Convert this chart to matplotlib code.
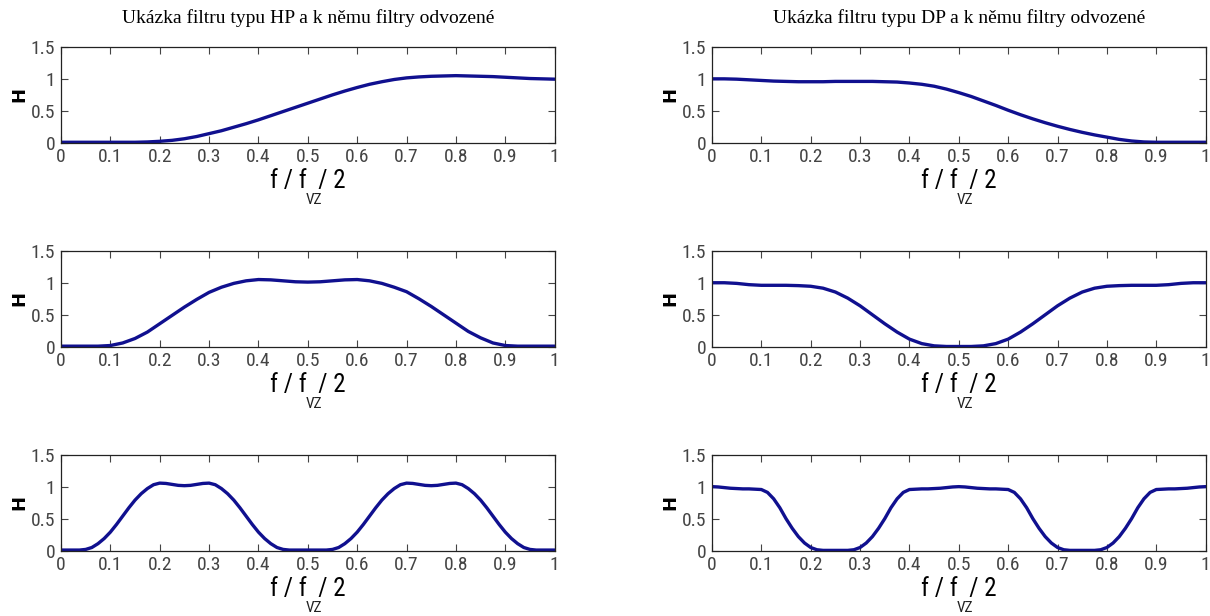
import matplotlib
matplotlib.use("Agg")
import matplotlib.pyplot as plt
from matplotlib import font_manager
import numpy as np

# úzké písmo, pokud je k dispozici
nazvy = {f.name for f in font_manager.fontManager.ttflist}
uzke = [n for n in ['Liberation Sans Narrow', 'Roboto Condensed', 'Open Sans Condensed'] if n in nazvy]
if uzke:
    plt.rcParams['font.family'] = [uzke[0], 'DejaVu Sans']
else:
    plt.rcParams['font.family'] = ['DejaVu Sans']
    plt.rcParams['font.stretch'] = 'condensed'

# odečtené hodnoty z obrázku (krok 0.025)
f_40 = np.linspace(0, 1, 41)
h_hp = [0.01, 0.01, 0.01, 0.01, 0.01, 0.01, 0.01, 0.015, 0.025, 0.04, 0.065, 0.10, 0.145, 0.19, 0.245, 0.30, 0.36,
        0.425, 0.49, 0.555, 0.62, 0.685, 0.75, 0.81, 0.865, 0.915, 0.955, 0.99, 1.015, 1.03, 1.04, 1.045, 1.05,
        1.045, 1.04, 1.035, 1.025, 1.015, 1.005, 1.0, 0.995]
h_dp = [1.0, 1.0, 0.995, 0.985, 0.975, 0.965, 0.96, 0.955, 0.955, 0.955, 0.96, 0.96, 0.96, 0.96, 0.955, 0.95, 0.935,
        0.915, 0.885, 0.84, 0.785, 0.725, 0.655, 0.585, 0.51, 0.44, 0.375, 0.315, 0.26, 0.21, 0.165, 0.125, 0.09,
        0.055, 0.03, 0.015, 0.01, 0.01, 0.01, 0.01, 0.01]
h_pp = [0.01, 0.01, 0.01, 0.01, 0.02, 0.06, 0.13, 0.23, 0.36, 0.49, 0.62, 0.74, 0.85, 0.93, 0.99, 1.03, 1.05,
        1.045, 1.03, 1.015, 1.01, 1.015, 1.03, 1.045, 1.05, 1.03, 0.99, 0.93, 0.86, 0.75, 0.63, 0.50, 0.37,
        0.24, 0.14, 0.06, 0.02, 0.01, 0.01, 0.01, 0.01]
h_pz = [1.0, 1.0, 0.99, 0.97, 0.96, 0.96, 0.96, 0.955, 0.945, 0.915, 0.855, 0.76, 0.64, 0.5, 0.36, 0.23, 0.12,
        0.05, 0.015, 0.005, 0.005, 0.005, 0.015, 0.05, 0.12, 0.23, 0.36, 0.5, 0.64, 0.76, 0.855, 0.915, 0.945,
        0.955, 0.96, 0.96, 0.96, 0.97, 0.99, 1.0, 1.0]

# spodní řada (krok 0.0125)
f_80 = np.linspace(0, 1, 81)
h_hr1 = [0.01, 0.01, 0.01, 0.01, 0.02, 0.05, 0.11, 0.19, 0.29, 0.41, 0.54, 0.67, 0.79, 0.89, 0.97, 1.03, 1.055,
         1.05, 1.035, 1.02, 1.015, 1.02, 1.035, 1.05, 1.055, 1.03, 0.97, 0.89, 0.79, 0.67, 0.54, 0.41, 0.29,
         0.19, 0.11, 0.05, 0.02, 0.01, 0.01, 0.01, 0.01,
         0.01, 0.01, 0.01, 0.02, 0.05, 0.11, 0.19, 0.29, 0.41, 0.54, 0.67, 0.79, 0.89, 0.97, 1.03, 1.055,
         1.05, 1.035, 1.02, 1.015, 1.02, 1.035, 1.05, 1.055, 1.03, 0.97, 0.89, 0.79, 0.67, 0.54, 0.41, 0.29,
         0.19, 0.11, 0.05, 0.02, 0.01, 0.01, 0.01, 0.01]
h_hr2 = [1.0, 0.995, 0.985, 0.975, 0.97, 0.965, 0.965, 0.96, 0.955, 0.91, 0.81, 0.67, 0.5, 0.35, 0.22, 0.12, 0.05,
         0.015, 0.005, 0.005, 0.005, 0.005, 0.005, 0.015, 0.05, 0.12, 0.22, 0.35, 0.5, 0.67, 0.81, 0.91, 0.955,
         0.96, 0.965, 0.965, 0.97, 0.975, 0.985, 0.995, 1.0,
         0.995, 0.985, 0.975, 0.97, 0.965, 0.965, 0.96, 0.955, 0.91, 0.81, 0.67, 0.5, 0.35, 0.22, 0.12, 0.05,
         0.015, 0.005, 0.005, 0.005, 0.005, 0.005, 0.015, 0.05, 0.12, 0.22, 0.35, 0.5, 0.67, 0.81, 0.91, 0.955,
         0.96, 0.965, 0.965, 0.97, 0.975, 0.985, 0.995, 1.0]

tituly = ['Ukázka filtru typu HP a k němu filtry odvozené', 'Ukázka filtru typu DP a k němu filtry odvozené']
xticky = [0, 0.1, 0.2, 0.3, 0.4, 0.5, 0.6, 0.7, 0.8, 0.9, 1]
xtick_popisky = ['0', '0.1', '0.2', '0.3', '0.4', '0.5', '0.6', '0.7', '0.8', '0.9', '1']
yticky = [0, 0.5, 1, 1.5]
ytick_popisky = ['0', '0.5', '1', '1.5']

data = [[(f_40, h_hp), (f_40, h_dp)],
        [(f_40, h_pp), (f_40, h_pz)],
        [(f_80, h_hr1), (f_80, h_hr2)]]

fig = plt.figure(figsize=(12.1, 6.16), dpi=100)

lefts = [0.0504, 0.5884]
widths = [0.408, 0.408]
bottoms = [0.768, 0.437, 0.106]
height = 0.156

for r in range(3):
    for c in range(2):
        ax = fig.add_axes([lefts[c], bottoms[r], widths[c], height])
        x, y = data[r][c]
        ax.plot(x, y, color='#10108f', linewidth=2.4, solid_joinstyle='round', solid_capstyle='round')
        ax.set_xlim(0, 1)
        ax.set_ylim(0, 1.5)
        ax.set_xticks(xticky)
        ax.set_xticklabels(xtick_popisky)
        ax.set_yticks(yticky)
        ax.set_yticklabels(ytick_popisky)
        ax.tick_params(direction='in', top=True, right=True, length=5, width=0.8,
                       labelsize=14, colors='#444444', pad=4)
        for s in ax.spines.values():
            s.set_linewidth(0.9)
            s.set_color('#222222')
        ax.set_ylabel('H', fontsize=13, fontweight='bold', family='DejaVu Sans', labelpad=2)
        lbl = ax.set_xlabel('f / f  / 2', fontsize=18, labelpad=2)
        ax.annotate('VZ', xy=(0.58, 0.02), xycoords=lbl, ha='center', va='top', fontsize=11, color='#222222')
        if r == 0:
            ax.set_title(tituly[c], family='Liberation Serif', fontsize=14, pad=17)

fig.savefig('out.png', dpi=100)
